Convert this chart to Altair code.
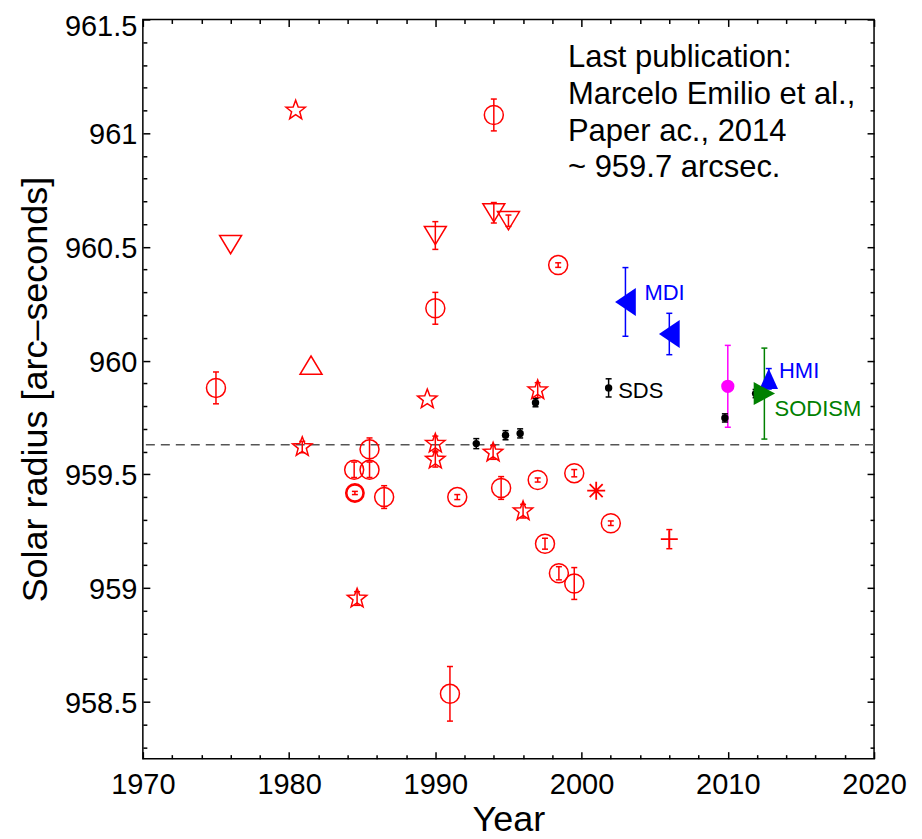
import altair as alt
import pandas as pd

# ---------------- data ----------------
# open red circles
circ_year = [1975.0, 1985.5, 1984.45, 1985.5, 1986.5, 1990.0, 1994.0, 1991.0,
             1994.5, 1999.5, 1998.45, 1997.5, 1991.5, 1997.0, 1999.5, 2002.0, 1998.4]
circ_val = [959.88, 959.61, 959.52, 959.52, 959.40, 960.23, 961.08, 958.535,
            959.44, 959.02, 959.065, 959.195, 959.40, 959.475, 959.505, 959.285, 960.42]
circ_err = [0.07, 0.05, 0.034, 0.034, 0.05, 0.07, 0.07, 0.12,
            0.05, 0.07, 0.029, 0.024, 0.011, 0.009, 0.016, 0.01, 0.01]
# bold red circle
bold_year = [1984.5]
bold_val = [959.418]
bold_err = [0.007]
# red stars
star_year = [1980.45, 1980.9, 1989.45, 1990.0, 1990.0, 1993.95, 1997.0, 1996.0, 1984.65]
star_val = [961.10, 959.62, 959.83, 959.635, 959.565, 959.596, 959.87, 959.338, 958.954]
star_err = [0.0, 0.025, 0.0, 0.033, 0.033, 0.03, 0.033, 0.03, 0.03]
# red downward triangles
tdown_year = [1976.0, 1990.0, 1994.0, 1995.0]
tdown_val = [960.51, 960.55, 960.65, 960.615]
tdown_err = [0.0, 0.061, 0.045, 0.025]
# red upward triangle
tup_year = [1981.5]
tup_val = [959.98]
# red asterisk
ast_year = [2001.0]
ast_val = [959.428]
# red plus
plus_year = [2006.0]
plus_val = [959.215]
plus_err = [0.042]
# black dots
dot_year = [1992.8, 1994.8, 1995.8, 1996.85, 2001.85, 2009.8, 2011.9]
dot_val = [959.635, 959.672, 959.68, 959.815, 959.88, 959.748, 959.855]
dot_err = [0.022, 0.02, 0.02, 0.018, 0.04, 0.018, 0.018]
# MDI (blue, left triangles)
mdi_year = [2003.0, 2006.0]
mdi_val = [960.258, 960.117]
mdi_err = [0.151, 0.091]
# HMI (blue, up triangle)
hmi_year = [2012.8]
hmi_val = [959.92]
hmi_err = [0.045]
# magenta point
mag_year = [2010.0]
mag_val = [959.887]
mag_err = [0.18]
# SODISM (green, right triangle)
sod_year = [2012.5]
sod_val = [959.855]
sod_err = [0.2]

ref_val = [959.63]

lab_text = ["MDI", "SDS", "HMI", "SODISM"]
lab_year = [2004.3, 2002.5, 2013.5, 2013.2]
lab_val = [960.265, 959.834, 959.924, 959.757]
lab_col = ["#0000ff", "#000000", "#0000ff", "#008000"]

note_text = ["Last publication:\nMarcelo Emilio et al.,\nPaper ac., 2014\n~ 959.7 arcsec."]
note_year = [1999.07]
note_val = [961.29]

x_major = [1970, 1980, 1990, 2000, 2010, 2020]
x_minor = [y for y in range(1970, 2021, 2) if y % 10 != 0]
y_major = [958.5, 959.0, 959.5, 960.0, 960.5, 961.0, 961.5]
y_minor = [round(958.3 + 0.1 * i, 1) for i in range(33)]
y_minor = [v for v in y_minor if v <= 961.5 and round(v * 2, 6) != round(round(v * 2), 6)]

RED = "#ff0000"

# ---------------- helpers ----------------
xs = alt.Scale(domain=[1970, 2020], nice=False, zero=False)
ys = alt.Scale(domain=[958.25, 961.5], nice=False, zero=False)


def df(years, vals):
    return pd.DataFrame({"year": years, "val": vals})


def X(axis=None, field="year:Q"):
    return alt.X(field, scale=xs, axis=axis)


def Y(axis=None, field="val:Q"):
    return alt.Y(field, scale=ys, axis=axis)


err_rows = []
for yrs, vals, errs, col in [
    (circ_year, circ_val, circ_err, RED),
    (bold_year, bold_val, bold_err, RED),
    (star_year, star_val, star_err, RED),
    (tdown_year, tdown_val, tdown_err, RED),
    (plus_year, plus_val, plus_err, RED),
    (dot_year, dot_val, dot_err, "#000000"),
    (mdi_year, mdi_val, mdi_err, "#0000ff"),
    (hmi_year, hmi_val, hmi_err, "#0000ff"),
    (mag_year, mag_val, mag_err, "#ff00ff"),
    (sod_year, sod_val, sod_err, "#008000"),
]:
    for yr, v, e in zip(yrs, vals, errs):
        if e > 0:
            err_rows.append({"year": yr, "lo": v - e, "hi": v + e, "col": col})
err_df = pd.DataFrame(err_rows)

STAR = ("M0,-1L0.247,-0.34L0.951,-0.309L0.399,0.13L0.588,0.809L0,0.42"
        "L-0.588,0.809L-0.399,0.13L-0.951,-0.309L-0.247,-0.34Z")
TDOWN = "M-1,-0.83L1,-0.83L0,0.83Z"
TUP = "M-1,0.83L1,0.83L0,-0.83Z"
AST = "M0,-1L0,1M-1,0L1,0M-0.72,-0.72L0.72,0.72M-0.72,0.72L0.72,-0.72"
PLUS = "M-1,0L1,0M0,-1L0,1"
TLEFT = "M-0.74,0L0.74,-1L0.74,1Z"
TUPB = "M-0.9,1L0.9,1L0,-1Z"
TRIGHT = "M-0.93,-1L-0.93,1L0.93,0Z"

FONT = "Liberation Sans"

base_df = df(circ_year, circ_val)

# ---------------- axes layers ----------------
tick_common = dict(grid=False, domain=False, labels=False, title=None,
                   tickColor="black", tickWidth=1.5)

axis_main = alt.Chart(base_df).mark_point(opacity=0).encode(
    x=X(alt.Axis(orient="bottom", values=x_major, format="d", ticks=False,
                 domain=False, grid=False, labelFontSize=29, labelFont=FONT,
                 labelColor="black", labelPadding=12, labelFlush=False,
                 title="Year", titleFontSize=36, titleFont=FONT,
                 titleFontWeight="normal", titleColor="black",
                 titleBaseline="alphabetic", titleY=72)),
    y=Y(alt.Axis(orient="left", values=y_major, format="~g", ticks=False,
                 domain=False, grid=False, labelFontSize=29, labelFont=FONT,
                 labelColor="black", labelPadding=6, labelFlush=False,
                 labelOffset={"condition": {"test": "datum.value >= 961.4", "value": 7},
                              "value": 1.5},
                 title="Solar radius [arc–seconds]", titleFontSize=36,
                 titleFont=FONT, titleFontWeight="normal", titleColor="black",
                 titleBaseline="alphabetic", titleX=-96)),
)


def tick_axes(xorient, yorient, xvals, yvals, size):
    return alt.Chart(base_df).mark_point(opacity=0).encode(
        x=X(alt.Axis(orient=xorient, values=xvals, offset=-size, tickSize=size,
                     **tick_common)),
        y=Y(alt.Axis(orient=yorient, values=yvals, offset=-size, tickSize=size,
                     **tick_common)),
    )


ax1 = tick_axes("bottom", "left", x_major, y_major, 7)
ax2 = tick_axes("bottom", "left", x_minor, y_minor, 4)
ax3 = tick_axes("top", "right", x_major, y_major, 7)
ax4 = tick_axes("top", "right", x_minor, y_minor, 4)

# ---------------- data layers ----------------
ref_line = alt.Chart(pd.DataFrame({"val": ref_val})).mark_rule(
    color="#555555", strokeDash=[9, 6], strokeWidth=1.5).encode(y=Y())

err_rule = alt.Chart(err_df).mark_rule(strokeWidth=1.5).encode(
    x=X(), y=Y(field="lo:Q"), y2="hi:Q", color=alt.Color("col:N", scale=None))
err_cap_lo = alt.Chart(err_df).mark_tick(orient="horizontal", size=6, thickness=1.5,
                                          opacity=1).encode(
    x=X(), y=Y(field="lo:Q"), color=alt.Color("col:N", scale=None))
err_cap_hi = alt.Chart(err_df).mark_tick(orient="horizontal", size=6, thickness=1.5,
                                          opacity=1).encode(
    x=X(), y=Y(field="hi:Q"), color=alt.Color("col:N", scale=None))


def sym(years, vals, shape, size, color, filled=False, sw=1.5):
    return alt.Chart(df(years, vals)).mark_point(
        shape=shape, size=size, color=color, filled=filled, opacity=1,
        strokeWidth=sw).encode(x=X(), y=Y())


circles = sym(circ_year, circ_val, "circle", 361, RED)
bold = sym(bold_year, bold_val, "circle", 300, RED, sw=2.6)
stars = sym(star_year, star_val, STAR, 416, RED)
tdown = sym(tdown_year, tdown_val, TDOWN, 484, RED)
tup = sym(tup_year, tup_val, TUP, 484, RED)
ast = sym(ast_year, ast_val, AST, 324, RED, sw=1.8)
plus = sym(plus_year, plus_val, PLUS, 289, RED, sw=1.8)
dots = sym(dot_year, dot_val, "circle", 55, "#000000", filled=True)
mdi = sym(mdi_year, mdi_val, TLEFT, 784, "#0000ff", filled=True)
hmi = sym(hmi_year, hmi_val, TUPB, 424, "#0000ff", filled=True)
mag = sym(mag_year, mag_val, "circle", 177, "#ff00ff", filled=True)
sod = sym(sod_year, sod_val, TRIGHT, 529, "#008000", filled=True)

labels = alt.Chart(pd.DataFrame({"year": lab_year, "val": lab_val, "t": lab_text,
                                 "col": lab_col})).mark_text(
    align="left", baseline="alphabetic", fontSize=22, font=FONT).encode(
    x=X(), y=Y(), text="t:N", color=alt.Color("col:N", scale=None))

note = alt.Chart(pd.DataFrame({"year": note_year, "val": note_val, "t": note_text})).mark_text(
    align="left", baseline="alphabetic", fontSize=31, font=FONT, lineBreak="\n",
    lineHeight=36.8, color="black").encode(x=X(), y=Y(), text="t:N")

chart = alt.layer(
    axis_main, ax1, ax2, ax3, ax4,
    ref_line, err_rule, err_cap_lo, err_cap_hi,
    circles, bold, stars, tdown, tup, ast, plus,
    dots, mdi, hmi, mag, sod, labels, note,
).resolve_axis(x="independent", y="independent").properties(
    width=732, height=740, autosize="none",
    padding={"left": 135, "top": 11, "right": 40, "bottom": 80},
    background="white",
).configure_view(stroke="black", strokeWidth=1.5)

chart.save("out.html", embed_options={"renderer": "svg", "actions": False})
